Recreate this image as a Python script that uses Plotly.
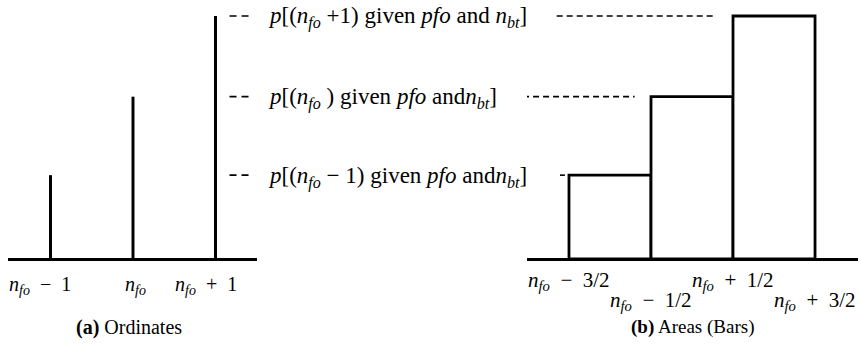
import plotly.graph_objects as go

# Relative probabilities of n_fo - 1, n_fo, n_fo + 1 failures
k = [-1, 0, 1]
p = [0.345, 0.668, 1.0]

ordinate_ticks = ["<i>n</i><sub><i>fo</i></sub>  &#8722;  1",
                  "<i>n</i><sub><i>fo</i></sub>",
                  "<i>n</i><sub><i>fo</i></sub>  +  1"]
edge_ticks = ["<i>n</i><sub><i>fo</i></sub>  &#8722;  3/2",
              "<i>n</i><sub><i>fo</i></sub>  &#8722;  1/2",
              "<i>n</i><sub><i>fo</i></sub>  +  1/2",
              "<i>n</i><sub><i>fo</i></sub>  +  3/2"]
prob_labels = [
    "<i>p</i>[(<i>n</i><sub><i>fo</i></sub> &#8722; 1) given <i>pfo</i> and<i>n</i><sub><i>bt</i></sub>]",
    "<i>p</i>[(<i>n</i><sub><i>fo</i></sub> ) given <i>pfo</i> and<i>n</i><sub><i>bt</i></sub>]",
    "<i>p</i>[(<i>n</i><sub><i>fo</i></sub> +1) given <i>pfo</i> and <i>n</i><sub><i>bt</i></sub>]",
]
captions = ["<b>(a)</b> Ordinates", "<b>(b)</b> Areas (Bars)"]

W, H = 861, 347
SERIF = "Liberation Serif"


def font(size):
    return dict(family=SERIF, size=size, color="black")


fig = go.Figure()

# (a) ordinates as thin stems
fig.add_trace(go.Bar(x=k, y=p, width=0.036, marker=dict(color="black", line=dict(width=0)),
                     xaxis="x", yaxis="y", showlegend=False, hoverinfo="skip"))

# (b) areas as unit-width bars
fig.add_trace(go.Bar(x=k, y=p, width=1.0,
                     marker=dict(color="white", line=dict(color="black", width=2.8)),
                     xaxis="x2", yaxis="y2", showlegend=False, hoverinfo="skip"))

# short leaders from the stems to the probability labels
lx, ly = [], []
for v in p:
    lx += [1.17, 1.41, None]
    ly += [v, v, None]
fig.add_trace(go.Scatter(x=lx, y=ly, mode="lines", xaxis="x", yaxis="y",
                         line=dict(color="black", width=1.6, dash="7px,5px"),
                         showlegend=False, hoverinfo="skip", cliponaxis=False))

# dashed leaders from the labels to the bar tops
lead_start = [-1.61, -2.06, -1.65]
lead_end = [-1.55, -0.70, 0.26]
rx, ry = [], []
for a, b, v in zip(lead_start, lead_end, p):
    rx += [a, b, None]
    ry += [v, v, None]
fig.add_trace(go.Scatter(x=rx, y=ry, mode="lines", xaxis="x2", yaxis="y2",
                         line=dict(color="black", width=1.6, dash="6px,4px"),
                         showlegend=False, hoverinfo="skip", cliponaxis=False))

yr = [-0.3621, 1.0658]
common_x = dict(visible=False, fixedrange=True)
common_y = dict(range=yr, showgrid=False, showticklabels=False, ticks="",
                zeroline=True, zerolinecolor="black", zerolinewidth=3,
                showline=False, fixedrange=True)

fig.update_layout(
    width=W, height=H,
    margin=dict(l=0, r=0, t=0, b=0),
    paper_bgcolor="white", plot_bgcolor="rgba(0,0,0,0)",
    font=font(20),
    barmode="overlay",
    xaxis=dict(domain=[8 / W, 257 / W], range=[-1.515, 1.503], **common_x),
    yaxis=dict(domain=[0, 1], anchor="x", **common_y),
    xaxis2=dict(domain=[527 / W, 858 / W], range=[-2.012, 2.024], **common_x),
    yaxis2=dict(domain=[0, 1], anchor="x2", **common_y),
)

ann = []
# tick labels under the stems
tick_shift = [-10, 2, -10]
for x, t, s in zip(k, ordinate_ticks, tick_shift):
    ann.append(dict(x=x, y=0, xref="x", yref="y", text=t, showarrow=False, font=font(20),
                    xanchor="center", yanchor="middle", yshift=-26, xshift=s))
# staggered tick labels under the bar edges
edges = [x - 0.5 for x in k] + [k[-1] + 0.5]
for i, (x, t) in enumerate(zip(edges, edge_ticks)):
    ann.append(dict(x=x, y=0, xref="x2", yref="y2", text=t, showarrow=False, font=font(21),
                    xanchor="center", yanchor="middle",
                    yshift=-22 if i % 2 == 0 else -42))
# probability labels between the panels
for v, t in zip(p, prob_labels):
    ann.append(dict(x=266 / W, y=v, xref="paper", yref="y", text=t, showarrow=False,
                    font=font(23), xanchor="left", yanchor="middle", yshift=-2))
# panel captions
ann.append(dict(x=129 / W, y=0, xref="paper", yref="y", text=captions[0], showarrow=False,
                font=font(20), xanchor="center", yanchor="middle", yshift=-68))
ann.append(dict(x=0, y=0, xref="x2", yref="y2", text=captions[1], showarrow=False,
                font=font(19), xanchor="center", yanchor="middle", yshift=-68))
fig.update_layout(annotations=ann)

fig.write_html("out.html")
